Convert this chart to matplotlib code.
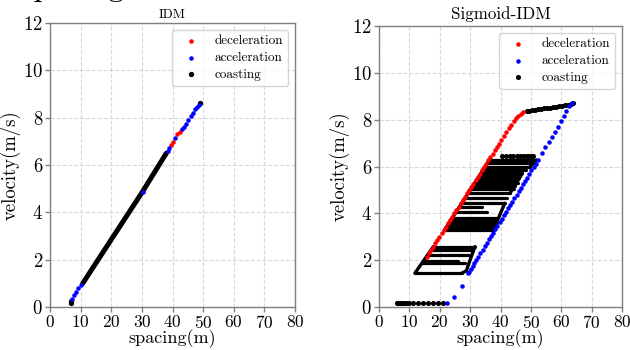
import matplotlib
matplotlib.use("Agg")
import matplotlib.pyplot as plt

plt.rcParams['font.family'] = 'cmr10'
plt.rcParams['mathtext.fontset'] = 'cm'
plt.rcParams['axes.unicode_minus'] = False
plt.rcParams['axes.formatter.use_mathtext'] = True

# ---------------- IDM (left) ----------------
idm_dec_s = [39.6, 40.1, 41.6, 42.3]
idm_dec_v = [6.85, 6.98, 7.31, 7.41]

idm_acc_s = [7.3, 7.9, 8.6, 9.3, 10.0, 30.3, 38.4, 39.0, 40.8,
             43.0, 43.8, 44.4, 45.2, 45.9, 46.6, 47.4, 47.9, 48.5]
idm_acc_v = [0.35, 0.50, 0.65, 0.80, 0.92, 4.88, 6.60, 6.72, 7.12,
             7.51, 7.62, 7.73, 7.90, 8.07, 8.21, 8.35, 8.44, 8.53]

idm_coast_s = [6.8, 6.9, 49.0]
idm_coast_v = [0.18, 0.26, 8.63]
# dense coasting trace (drawn as a thick run of points)
idm_trace_s = [10.7, 20.0, 30.0, 38.0]
idm_trace_v = [1.00, 2.85, 4.83, 6.50]

# ---------------- Sigmoid-IDM (right) ----------------
sig_dec_s = [15.7, 16.4, 17.1, 17.8, 18.5, 19.2, 19.9, 20.6, 21.3, 22.0, 22.7,
             23.4, 24.1, 24.8, 25.5, 26.2, 26.9, 27.6, 28.3, 29.0, 29.7, 30.4,
             31.1, 31.8, 32.5, 33.2, 33.9, 34.6, 35.3, 36.0, 36.7, 37.4, 38.1,
             38.8, 39.5, 40.3, 41.1, 41.9, 42.7, 43.5, 44.3, 45.1, 45.9, 46.6, 47.3]
sig_dec_v = [2.15, 2.29, 2.43, 2.58, 2.72, 2.86, 3.00, 3.14, 3.29, 3.43, 3.57,
             3.71, 3.85, 4.00, 4.14, 4.28, 4.42, 4.56, 4.71, 4.85, 4.99, 5.13,
             5.27, 5.42, 5.56, 5.70, 5.84, 5.98, 6.12, 6.27, 6.41, 6.55, 6.69,
             6.83, 6.98, 7.14, 7.31, 7.47, 7.63, 7.78, 7.93, 8.06, 8.17, 8.26, 8.33]

sig_acc_s = [22.3, 24.7, 27.2, 29.4,
             29.6, 30.2, 30.8, 31.4, 32.0, 32.7, 33.4, 34.1, 34.8, 35.5, 36.2,
             36.9, 37.6, 38.3, 39.0, 39.7, 40.4, 41.1, 41.8, 42.5, 43.2, 43.9,
             44.6, 45.3, 46.0, 46.7, 47.4, 48.1, 48.8, 49.5, 50.2, 50.9, 51.6, 52.3,
             53.5, 54.8, 55.9, 56.8, 57.9, 58.8, 59.9, 60.9, 61.7, 62.6, 63.5]
sig_acc_v = [0.18, 0.41, 0.90, 1.44,
             1.50, 1.63, 1.75, 1.88, 2.00, 2.15, 2.30, 2.45, 2.59, 2.74, 2.89,
             3.03, 3.18, 3.33, 3.47, 3.62, 3.77, 3.92, 4.06, 4.21, 4.36, 4.50,
             4.65, 4.80, 4.94, 5.09, 5.24, 5.39, 5.53, 5.68, 5.83, 5.97, 6.12, 6.27,
             6.57, 6.82, 7.04, 7.28, 7.49, 7.70, 7.95, 8.16, 8.37, 8.59, 8.73]

sig_coast_s = [6.0, 6.4, 6.8, 7.2, 7.7, 8.3, 9.0, 10.0, 11.3, 12.8, 14.4, 16.1, 17.8, 19.4, 21.0,
               40.6, 41.8, 43.0, 44.2, 45.3, 46.4, 47.4, 48.3, 49.2, 50.0, 50.8,
               48.6, 49.4, 50.3, 51.3, 52.3, 53.3, 54.3, 55.3, 56.3, 57.3, 58.3,
               59.3, 60.3, 61.3, 62.3, 63.2, 63.9]
sig_coast_v = [0.18, 0.18, 0.18, 0.18, 0.18, 0.18, 0.18, 0.18, 0.18, 0.18, 0.18, 0.18, 0.18, 0.18, 0.18,
               6.45, 6.45, 6.45, 6.45, 6.45, 6.45, 6.45, 6.45, 6.45, 6.45, 6.45,
               8.38, 8.39, 8.41, 8.43, 8.44, 8.46, 8.48, 8.49, 8.51, 8.53, 8.55,
               8.57, 8.59, 8.61, 8.64, 8.68, 8.70]

# dense coasting stripes: speed level, start spacing, end spacing
stripe_v = [1.44, 1.86, 1.97, 2.22, 2.45, 2.58,
            3.29, 3.37, 3.45, 3.52, 3.60, 3.70, 3.79, 4.07, 4.25, 4.43,
            4.65, 4.85, 5.05, 5.17, 5.28, 5.40, 5.50, 5.60, 5.71, 5.85, 6.00, 6.14, 6.28]
stripe_s0 = [11.8, 14.3, 14.9, 16.2, 17.3, 17.9,
             21.6, 22.0, 22.4, 22.7, 23.2, 23.6, 24.1, 25.5, 26.3, 27.2,
             28.3, 29.3, 30.3, 30.9, 31.5, 32.0, 32.5, 33.0, 33.6, 34.3, 35.0, 35.7, 36.4]
stripe_s1 = [27.2, 28.3, 26.0, 29.6, 31.0, 31.6,
             37.8, 37.9, 38.3, 38.5, 38.7, 38.9, 39.0, 35.5, 34.0, 41.4,
             42.0, 43.1, 44.5, 44.8, 45.8, 45.5, 46.0, 46.4, 47.2, 48.5, 49.8, 50.6, 51.8]
# left / right edges of the coasting bands
edge_left_s = [[11.8, 17.9], [21.6, 36.4]]
edge_left_v = [[1.44, 2.58], [3.29, 6.28]]
edge_right_s = [[27.2, 28.8, 29.4, 31.6], [38.7, 41.4], [43.1, 47.2], [49.8, 51.8]]
edge_right_v = [[1.44, 1.55, 1.80, 2.58], [3.60, 4.43], [4.85, 5.71], [6.00, 6.28]]

C_DEC = '#ff0000'
C_ACC = '#0000ff'
C_COAST = '#000000'
MS = 5


def style_axes(ax):
    ax.set_xlim(0, 80)
    ax.set_ylim(0, 12)
    ax.set_xticks(range(0, 81, 10))
    ax.set_yticks(range(0, 13, 2))
    ax.grid(True, linestyle='--', color='#d8d8d8', linewidth=0.8)
    ax.set_axisbelow(True)
    for sp in ax.spines.values():
        sp.set_color('#808080')
        sp.set_linewidth(1.0)
    ax.tick_params(color='#808080', length=3.5, width=1.0, pad=1.5)
    ax.tick_params(axis='x', labelsize=12.5)
    ax.tick_params(axis='y', labelsize=13.5)
    ax.set_xlabel('spacing(m)', fontsize=13, labelpad=-1)
    ax.set_ylabel('velocity(m/s)', fontsize=13.5, labelpad=2)


fig = plt.figure(figsize=(6.3, 3.5), dpi=100)
ax1 = fig.add_axes([50 / 630, 43 / 350, 245 / 630, 284 / 350])
ax2 = fig.add_axes([379 / 630, 43 / 350, 243 / 630, 281 / 350])

# left panel
ax1.plot(idm_trace_s, idm_trace_v, color=C_COAST, lw=3.6, solid_capstyle='round', zorder=2)
h_c = ax1.scatter(idm_coast_s, idm_coast_v, s=MS + 3, color=C_COAST, label='coasting', zorder=2)
h_d = ax1.scatter(idm_dec_s, idm_dec_v, s=MS, color=C_DEC, label='deceleration', zorder=3)
h_a = ax1.scatter(idm_acc_s, idm_acc_v, s=MS, color=C_ACC, label='acceleration', zorder=3)
style_axes(ax1)
ax1.set_title('IDM', fontsize=9.5, pad=3.5)
ax1.legend(handles=[h_d, h_a, h_c], fontsize=9.5, labelspacing=0.35, loc='upper right')

# right panel
for v, s0, s1 in zip(stripe_v, stripe_s0, stripe_s1):
    ax2.plot([s0, s1], [v, v], color=C_COAST, lw=2.3, solid_capstyle='round', zorder=2)
for xs, ys in zip(edge_left_s + edge_right_s, edge_left_v + edge_right_v):
    ax2.plot(xs, ys, color=C_COAST, lw=2.4, solid_capstyle='round', zorder=2)
h_c = ax2.scatter(sig_coast_s, sig_coast_v, s=MS + 2, color=C_COAST, label='coasting', zorder=2)
h_d = ax2.scatter(sig_dec_s, sig_dec_v, s=MS, color=C_DEC, label='deceleration', zorder=3)
h_a = ax2.scatter(sig_acc_s, sig_acc_v, s=MS, color=C_ACC, label='acceleration', zorder=3)
style_axes(ax2)
ax2.set_title('Sigmoid-IDM', fontsize=12.2, pad=5)
ax2.legend(handles=[h_d, h_a, h_c], fontsize=9.5, labelspacing=0.35, loc='upper right')

# clipped label fragment visible at the very top edge of the reference
fig.text(21 / 630, 1 + 4.4 / 350, 'spacing', fontsize=23, va='baseline')

fig.savefig('out.png', dpi=100)
